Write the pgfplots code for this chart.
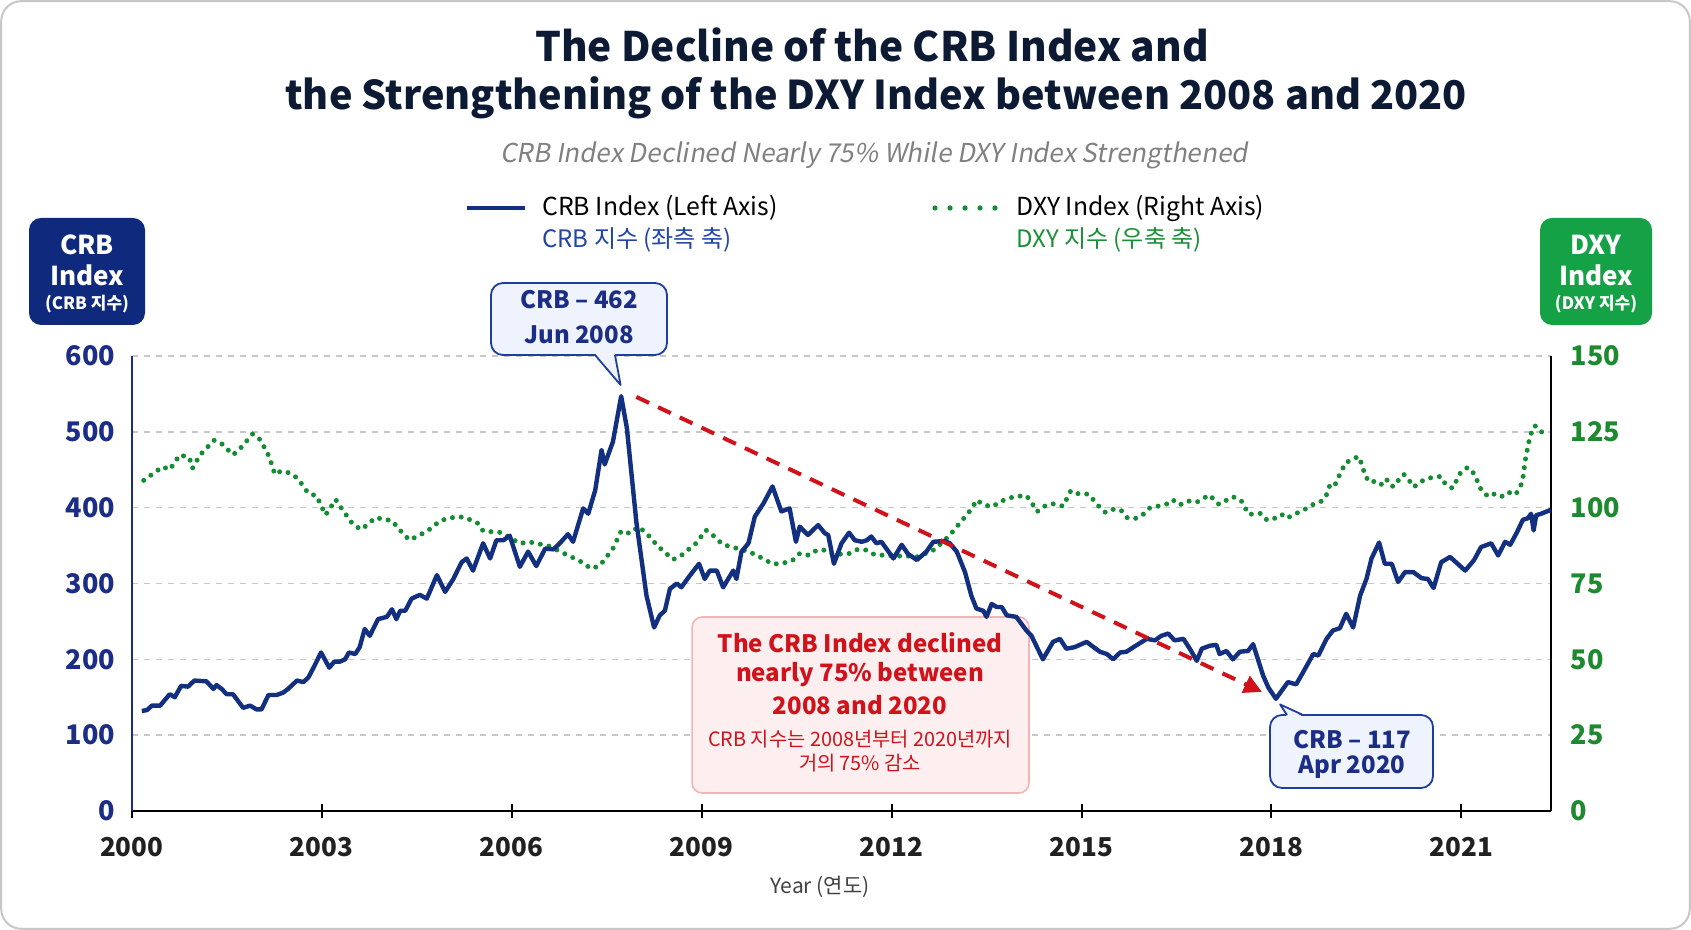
\documentclass[border=0pt]{standalone}
\usepackage{pgfplots}
\pgfplotsset{compat=1.18}
\usepackage{fontspec}
\setmainfont{Noto Sans CJK KR}
\newfontfamily\slfont{Noto Sans CJK KR}[FakeSlant=0.18]
\usetikzlibrary{arrows.meta}
\definecolor{crb}{HTML}{12307F}
\definecolor{crbtick}{HTML}{1B2D85}
\definecolor{dxy}{HTML}{138C32}
\definecolor{dxytick}{HTML}{1E8A30}
\definecolor{badgeblue}{HTML}{0F2A7C}
\definecolor{badgegreen}{HTML}{15A146}
\definecolor{redc}{HTML}{D0121B}
\definecolor{titlec}{HTML}{0D1A33}
\definecolor{callfill}{HTML}{EEF3FD}
\definecolor{callborder}{HTML}{1E3E9E}
\definecolor{boxfill}{HTML}{FDEFEF}
\definecolor{boxborder}{HTML}{F2B4B4}
\definecolor{korblue}{HTML}{2045A8}
\definecolor{korgreen}{HTML}{1A8F35}
\newcommand{\fs}[2]{\fontsize{#1}{#2}\selectfont}
\begin{document}
\begin{tikzpicture}[x=1pt,y=1pt]
\useasboundingbox (0,0) rectangle (845.5,465);
\draw[rounded corners=10pt, draw=black!22, line width=1pt, fill=white] (0.6,0.6) rectangle (844.9,464.4);

% titles
\node[font=\bfseries\fs{20.3}{24}, text=titlec] at (436,442.5) {The Decline of the CRB Index and};
\node[font=\bfseries\fs{19.8}{24}, text=titlec] at (438,416) {the Strengthening of the DXY Index between 2008 and 2020};
\node[font=\slfont\fs{13}{16}, text=black!50] at (437,387.5) {CRB Index Declined Nearly 75\% While DXY Index Strengthened};

% legend
\draw[crb, line width=2.4pt] (233.5,361) -- (262.5,361);
\node[anchor=west, font=\fs{12.4}{14}, inner sep=0pt] at (271,361) {CRB Index (Left Axis)};
\node[anchor=west, font=\fs{12}{14}, text=korblue, inner sep=0pt] at (271,345) {CRB 지수 (좌측 축)};
\draw[dxy, line width=2.6pt, line cap=round, dash pattern=on 0pt off 7.5pt] (467.5,361) -- (498,361);
\node[anchor=west, font=\fs{12.4}{14}, inner sep=0pt] at (508,361) {DXY Index (Right Axis)};
\node[anchor=west, font=\fs{12}{14}, text=korgreen, inner sep=0pt] at (508,345) {DXY 지수 (우축 축)};

% badges
\fill[badgeblue, rounded corners=6pt] (14.5,302.5) rectangle (72.5,356);
\node[text=white, font=\bfseries\fs{13}{15}] at (43.5,342.5) {CRB};
\node[text=white, font=\bfseries\fs{13}{15}] at (43.5,327.5) {Index};
\node[text=white, font=\bfseries\fs{8.5}{10}] at (43.5,313) {(CRB 지수)};
\fill[badgegreen, rounded corners=6pt] (770,302.5) rectangle (826,356);
\node[text=white, font=\bfseries\fs{13}{15}] at (798,342.5) {DXY};
\node[text=white, font=\bfseries\fs{13}{15}] at (798,327.5) {Index};
\node[text=white, font=\bfseries\fs{8.5}{10}] at (798,313) {(DXY 지수)};

% ---------- DXY axis (right) ----------
\begin{axis}[at={(65.85pt,59.5pt)}, anchor=south west, scale only axis,
  width=709.5pt, height=227.5pt,
  xmin=2000, xmax=2022.41, ymin=0, ymax=150,
  axis x line=none, axis y line*=right,
  y axis line style={-, black, line width=0.8pt},
  ytick={0,25,...,150}, ytick style={draw=none},
  ymajorgrids, grid style={black!22, line width=0.7pt, dash pattern=on 3pt off 3pt},
  /pgf/number format/assume math mode=true,
  yticklabel style={font=\bfseries\fs{13.5}{16}, text=dxytick, xshift=6.5pt},
  clip=false]
\draw[boxborder, fill=boxfill, line width=0.8pt, rounded corners=5pt] (axis cs:2008.85,5.93) rectangle (axis cs:2014.17,63.96);
\addplot[dxy, line width=2.5pt, line cap=round, dash pattern=on 0pt off 4.4pt] coordinates {
(2000.19,109)(2000.49,113.5)(2000.60,112.5)(2000.76,117.4)(2000.91,116.5)(2000.96,113)(2001.08,117.4)
(2001.30,122.2)(2001.41,121.3)(2001.60,117.4)(2001.71,119.4)(2001.91,124.3)(2002.03,122.4)(2002.17,116.9)
(2002.26,111)(2002.36,112.1)(2002.50,111.4)(2002.62,109.7)(2002.79,104.7)(2002.92,103.9)(2003.06,97.6)
(2003.14,100)(2003.22,102.7)(2003.34,99)(2003.50,94.3)(2003.63,92.8)(2003.85,96.7)(2004.11,95.7)
(2004.29,91.3)(2004.39,89.3)(2004.67,92.3)(2004.88,95.8)(2005.10,96.9)(2005.25,96.9)(2005.47,94.8)
(2005.55,92.3)(2005.84,91.8)(2005.95,90.4)(2006.13,88.2)(2006.28,88.7)(2006.58,87.4)(2006.87,84.5)
(2007.00,83.2)(2007.13,81.8)(2007.25,79.9)(2007.39,80.8)(2007.60,86.5)(2007.73,92.3)(2007.87,91.5)
(2008.00,93.7)(2008.12,91.8)(2008.31,87.3)(2008.55,82.9)(2008.67,84.1)(2008.91,88.2)(2009.07,92.6)
(2009.19,90.7)(2009.33,87.9)(2009.50,86.9)(2009.76,85.4)(2009.99,83)(2010.12,81.4)(2010.25,81.6)
(2010.42,82.3)(2010.55,84.9)(2010.70,84.3)(2010.82,86)(2010.95,86)(2011.09,84.5)(2011.34,84.9)
(2011.47,86.3)(2011.61,86)(2011.73,84.5)(2012.03,84.1)(2012.27,84)(2012.42,83.8)(2012.68,86.2)
(2012.91,90.7)(2013.11,95.7)(2013.28,100)(2013.34,102.5)(2013.46,100.9)(2013.60,100.3)(2013.71,102)
(2013.93,103.6)(2014.13,104)(2014.22,101.4)(2014.30,98.7)(2014.39,100.3)(2014.54,101.3)(2014.71,100.5)
(2014.83,105.6)(2014.96,104.5)(2015.11,104.5)(2015.28,100.3)(2015.38,98.4)(2015.52,99.6)(2015.63,99)
(2015.73,96.5)(2015.87,96.5)(2016.01,98.3)(2016.07,99.8)(2016.21,100.5)(2016.36,101.3)(2016.44,102.6)
(2016.55,100.9)(2016.68,102.2)(2016.82,101.8)(2017.02,104.2)(2017.11,102.3)(2017.17,101.1)(2017.39,103.6)
(2017.52,102.4)(2017.64,97.8)(2017.83,98.1)(2017.93,95.9)(2018.05,96.5)(2018.16,97.8)(2018.24,96.5)
(2018.42,98.4)(2018.55,99.7)(2018.67,101.2)(2018.80,102.2)(2018.88,104.6)(2018.92,107.3)(2018.99,106.9)
(2019.05,109.7)(2019.12,112.7)(2019.17,114.9)(2019.26,115.6)(2019.37,116.9)(2019.44,113.8)(2019.47,110.8)
(2019.55,108.4)(2019.67,108.8)(2019.76,107.3)(2019.83,109.2)(2019.92,106.9)(2020.00,108.9)(2020.09,111)
(2020.18,108.8)(2020.25,106.8)(2020.34,108.4)(2020.47,109.7)(2020.67,110.3)(2020.75,107.7)(2020.86,106.4)
(2020.99,111.7)(2021.10,113.3)(2021.20,111.2)(2021.32,105.5)(2021.43,103.6)(2021.54,104.7)(2021.66,103.6)
(2021.77,105.1)(2021.86,104.4)(2021.94,107.5)(2021.98,110.8)(2022.00,114.7)(2022.03,118)(2022.06,121.3)
(2022.10,124.4)(2022.16,127)(2022.25,125.7)(2022.30,123.5)};
\end{axis}

% ---------- CRB axis (left) ----------
\begin{axis}[at={(65.85pt,59.5pt)}, anchor=south west, scale only axis,
  width=709.5pt, height=227.5pt,
  xmin=2000, xmax=2022.41, ymin=0, ymax=600,
  axis x line*=bottom, axis y line*=left,
  x axis line style={-, black, line width=1.1pt},
  y axis line style={-, crbtick, line width=1pt},
  xtick={2000,2003,...,2021}, xtick align=center, major tick length=7pt,
  xtick style={black, line width=1pt},
  ytick={0,100,...,600}, ytick style={draw=none},
  /pgf/number format/assume math mode=true,
  yticklabel style={font=\bfseries\fs{13.5}{16}, text=crbtick, xshift=-4.8pt},
  xticklabel style={font=\bfseries\fs{13}{16}, text=black!87, /pgf/number format/1000 sep={}, yshift=-6pt},
  clip=false]
\addplot[crb, line width=2.2pt, line join=round] coordinates {
(2000.16,132)(2000.24,133)(2000.32,139)(2000.45,139)(2000.60,154)(2000.68,150)(2000.78,165)(2000.89,164)
(2000.99,172)(2001.18,171)(2001.29,161)(2001.34,166)(2001.42,161)(2001.50,154)(2001.60,154)(2001.76,136)
(2001.87,139)(2001.97,134)(2002.05,134)(2002.16,153)(2002.29,153)(2002.39,156)(2002.47,161)(2002.61,172)
(2002.71,170)(2002.79,176)(2002.89,192)(2002.99,209)(2003.12,189)(2003.20,197)(2003.29,197)(2003.37,200)
(2003.43,209)(2003.53,207)(2003.60,216)(2003.68,240)(2003.76,231)(2003.89,253)(2004.03,256)(2004.11,266)
(2004.18,253)(2004.24,264)(2004.32,264)(2004.42,280)(2004.55,285)(2004.66,280)(2004.82,311)(2004.95,289)
(2005.08,306)(2005.21,328)(2005.29,333)(2005.39,317)(2005.55,353)(2005.66,333)(2005.76,357)(2005.87,357)
(2005.97,363)(2006.13,322)(2006.26,342)(2006.39,323)(2006.53,346)(2006.66,345)(2006.76,353)(2006.89,365)
(2006.97,355)(2007.13,399)(2007.21,392)(2007.32,423)(2007.42,476)(2007.47,457)(2007.60,487)(2007.73,547)
(2007.82,505)(2007.97,381)(2008.13,284)(2008.25,242)(2008.34,258)(2008.42,264)(2008.50,293)(2008.61,300)
(2008.68,295)(2008.82,311)(2008.96,326)(2009.05,306)(2009.13,317)(2009.24,317)(2009.34,295)(2009.50,317)
(2009.55,306)(2009.63,342)(2009.74,353)(2009.84,388)(2009.98,406)(2010.12,428)(2010.26,395)(2010.39,399)
(2010.49,355)(2010.55,375)(2010.68,364)(2010.84,377)(2010.95,366)(2011.00,364)(2011.09,326)(2011.21,353)
(2011.33,367)(2011.42,357)(2011.53,355)(2011.61,357)(2011.68,362)(2011.76,353)(2011.84,355)(2012.03,333)
(2012.16,351)(2012.26,339)(2012.40,331)(2012.55,342)(2012.66,355)(2012.84,356)(2012.92,353)(2013.03,342)
(2013.16,315)(2013.26,284)(2013.34,267)(2013.45,264)(2013.50,256)(2013.58,273)(2013.66,269)(2013.74,269)
(2013.82,258)(2013.97,256)(2014.13,238)(2014.21,231)(2014.39,200)(2014.55,223)(2014.66,227)(2014.76,214)
(2014.89,216)(2015.08,223)(2015.29,210)(2015.40,207)(2015.50,200)(2015.61,209)(2015.71,210)(2015.82,216)
(2016.03,227)(2016.16,225)(2016.26,231)(2016.37,234)(2016.47,225)(2016.61,227)(2016.71,214)(2016.82,198)
(2016.90,214)(2017.03,218)(2017.13,219)(2017.18,207)(2017.29,211)(2017.39,200)(2017.50,210)(2017.63,211)
(2017.71,220)(2017.87,178)(2017.95,163)(2018.07,148)(2018.26,170)(2018.39,167)(2018.50,183)(2018.66,207)
(2018.74,205)(2018.87,227)(2018.97,238)(2019.08,241)(2019.18,260)(2019.29,242)(2019.40,284)(2019.50,306)
(2019.58,333)(2019.70,354)(2019.79,326)(2019.90,326)(2020.00,302)(2020.11,315)(2020.24,315)(2020.37,307)
(2020.47,306)(2020.56,294)(2020.68,328)(2020.82,335)(2021.06,317)(2021.20,331)(2021.31,348)(2021.47,353)
(2021.58,337)(2021.69,355)(2021.77,351)(2021.88,368)(2021.97,384)(2022.05,386)(2022.10,392)(2022.14,370)
(2022.18,390)(2022.26,392)(2022.41,397)};
\draw[redc, line width=2pt, dash pattern=on 7pt off 5pt, -{Triangle[length=9pt,width=9pt]}] (axis cs:2007.97,546) -- (axis cs:2017.85,157);
\end{axis}

% red annotation text
\node[font=\bfseries\fs{12}{15}, text=redc] at (430,143.5) {The CRB Index declined};
\node[font=\bfseries\fs{12}{15}, text=redc] at (430,127.5) {nearly 75\% between};
\node[font=\bfseries\fs{12}{15}, text=redc] at (430,112.5) {2008 and 2020};
\node[font=\fs{9.9}{11}, text=redc] at (430,95.5) {CRB 지수는 2008년부터 2020년까지};
\node[font=\fs{9.9}{11}, text=redc] at (430,83.5) {거의 75\% 감소};

% callout 1
\draw[callborder, fill=callfill, line width=0.9pt, rounded corners=6pt] (245.5,287.5) rectangle (333.5,323.5);
\fill[callfill] (297.5,288.3) -- (310.3,272.5) -- (307.5,288.3) -- cycle;
\draw[callborder, line width=0.9pt, line join=round] (297.5,287.5) -- (310.3,272.5) -- (307.5,287.5);
\node[font=\bfseries\fs{12}{14}, text=crbtick] at (289.5,315) {CRB – 462};
\node[font=\bfseries\fs{12}{14}, text=crbtick] at (289.5,297.5) {Jun 2008};

% callout 2
\draw[callborder, fill=callfill, line width=0.9pt, rounded corners=6pt] (635,71) rectangle (716.5,107.5);
\fill[callfill] (643.5,106.7) -- (640,112.8) -- (651.5,106.7) -- cycle;
\draw[callborder, line width=0.9pt, line join=round] (643.5,107.5) -- (640,112.8) -- (651.5,107.5);
\node[font=\bfseries\fs{12}{14}, text=crbtick] at (676,95) {CRB – 117};
\node[font=\bfseries\fs{12}{14}, text=crbtick] at (676,81.5) {Apr 2020};

% x label
\node[font=\fs{10.5}{12}, text=black!75] at (410,21.5) {Year (연도)};
\end{tikzpicture}
\end{document}
